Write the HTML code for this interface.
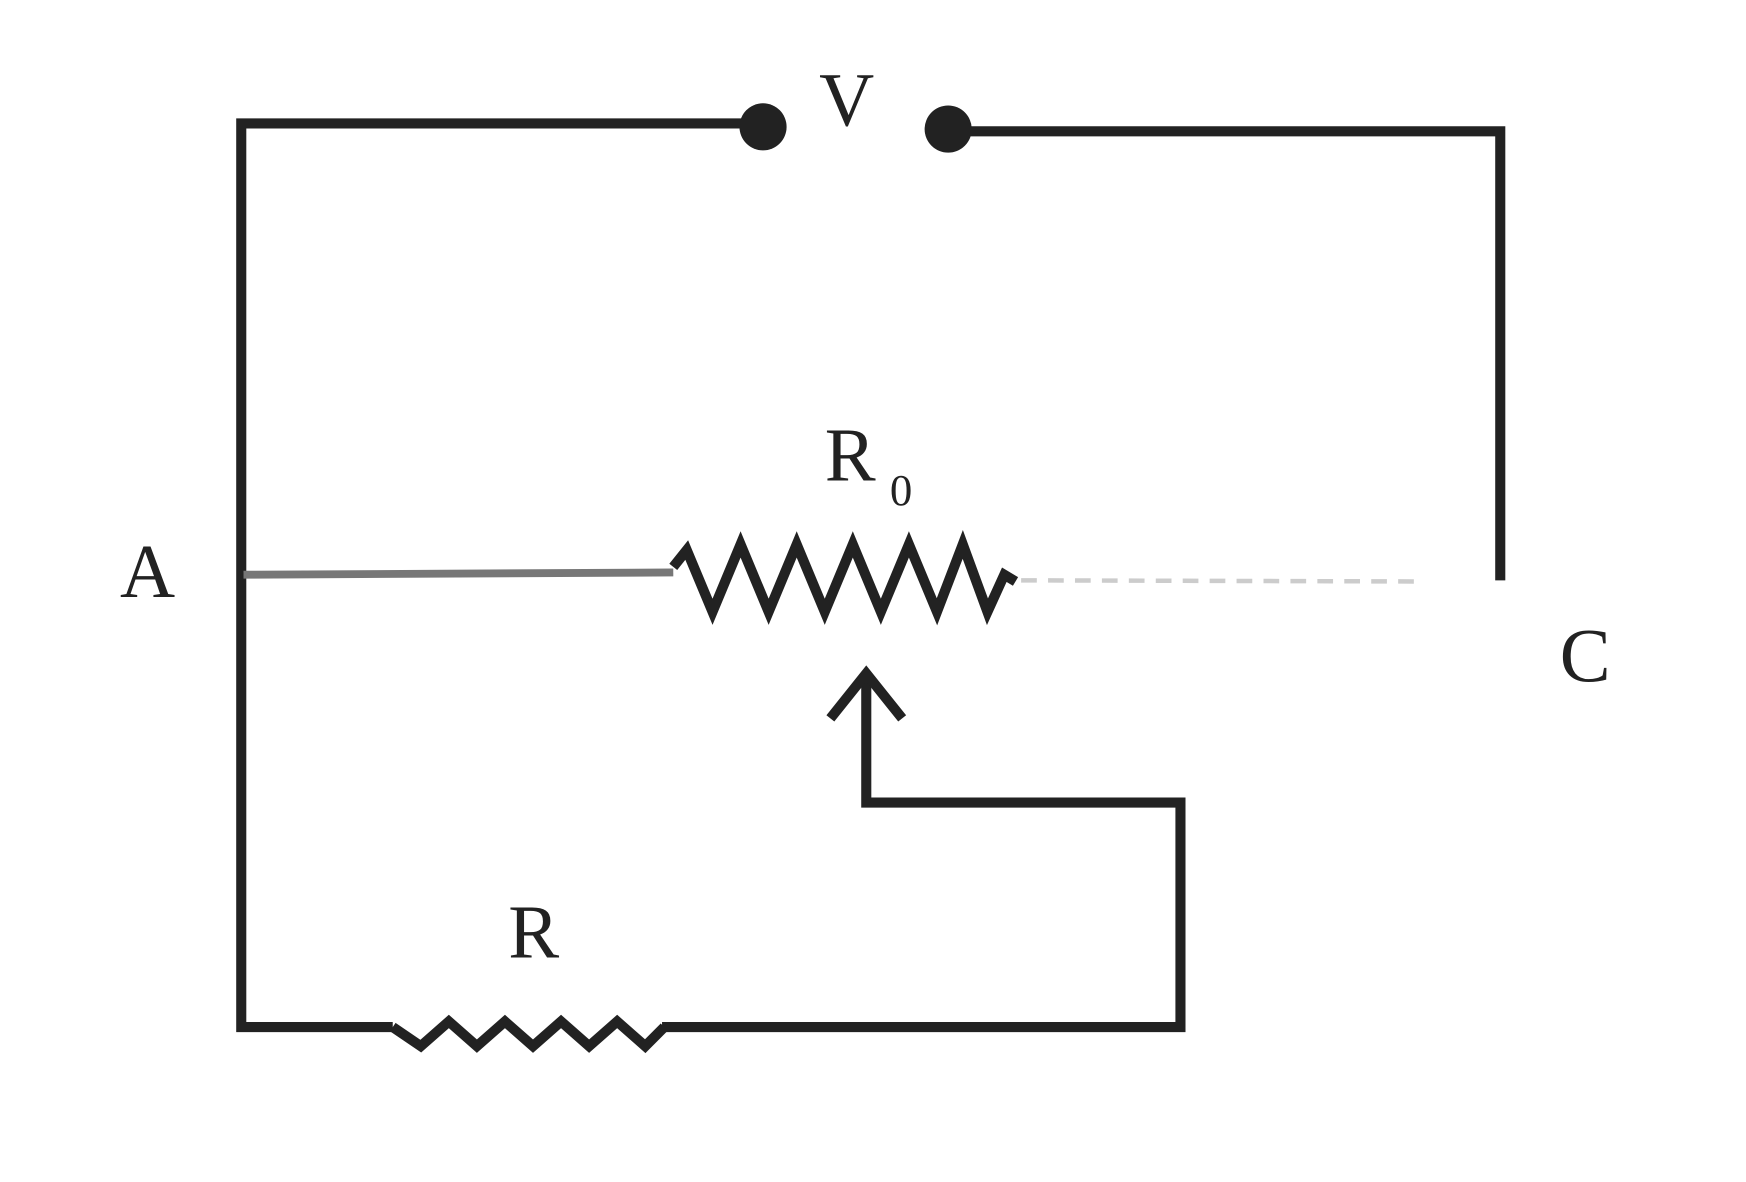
<!DOCTYPE html>
<html><head><style>html,body{margin:0;padding:0;background:#fff}svg{display:block}</style></head>
<body>
<svg width="1746" height="1182" viewBox="0 0 1556 1053" preserveAspectRatio="none" xmlns="http://www.w3.org/2000/svg">
<g fill="none" stroke="#222" stroke-width="9" stroke-linejoin="miter">
<polyline points="680,110 215,110 215,915 350,915"/>
<polyline points="350,915 375,932 400,910 425,932 450,910 475,932 500,910 525,932 550,910 575,932 592,915"/>
<polyline points="590,915 1052,915 1052,715 772,715 772,600"/>
<polyline points="740,640 772,600 804,640"/>
<polyline points="845,117 1337,117 1337,517"/>
<polyline points="600,505 612,490 635,545 660,485 685,545 710,485 735,545 760,485 785,545 810,485 835,545 858,485 880,545 895,512 905,518"/>
</g>
<line x1="217" y1="512" x2="600" y2="510" stroke="#777" stroke-width="7"/>
<line x1="910" y1="517" x2="1260" y2="518" stroke="#ccc" stroke-width="4" stroke-dasharray="14,10"/>
<circle cx="680" cy="113" r="21" fill="#222"/>
<circle cx="845" cy="115" r="21" fill="#222"/>
<g font-family="Liberation Serif, serif" fill="#222">
<text x="730" y="112" font-size="68">V</text>
<text x="735" y="428" font-size="68">R</text>
<text x="793" y="450" font-size="40">0</text>
<text x="107" y="532" font-size="68">A</text>
<text x="1390" y="607" font-size="68">C</text>
<text x="453" y="853" font-size="68">R</text>
</g>
</svg>
</body></html>
